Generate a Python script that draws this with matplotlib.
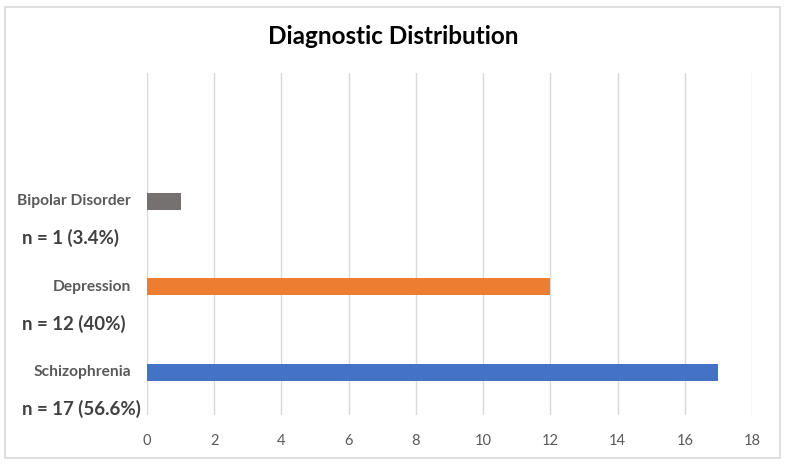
import matplotlib
matplotlib.use("Agg")
import matplotlib.pyplot as plt
from matplotlib.patches import Rectangle
from matplotlib.transforms import blended_transform_factory

plt.rcParams['font.family'] = ['Lato', 'DejaVu Sans']

categories = ["Schizophrenia", "Depression", "Bipolar Disorder", ""]
values = [17, 12, 1]
count_labels = ["n = 17 (56.6%)", "n = 12 (40%)", "n = 1 (3.4%)"]
colors = ["#4472C4", "#ED7D31", "#767171"]
xticks = [0, 2, 4, 6, 8, 10, 12, 14, 16, 18]
title = "Diagnostic Distribution"

W, H = 786, 465
fig = plt.figure(figsize=(W / 100, H / 100), dpi=100)
fig.patches.append(Rectangle((5 / W, 7 / H), 775 / W, 451 / H, transform=fig.transFigure,
                             fill=False, edgecolor="#D9D9D9", linewidth=1.2))

ax = fig.add_axes([147 / W, 1 - 415 / H, (752 - 147) / W, (415 - 73) / H])
ypos = list(range(len(values)))
ax.barh(ypos, values, height=0.2, color=colors, zorder=3)
ax.set_xlim(0, 18)
ax.set_ylim(-0.5, len(categories) - 0.5)
ax.set_xticks(xticks)
ax.set_xticklabels([str(t) for t in xticks], color="#595959", fontsize=10.5)
ax.tick_params(axis="x", length=0, pad=14)
ax.set_yticks([])
for s in ax.spines.values():
    s.set_visible(False)
ax.grid(axis="x", color="#D9D9D9", linewidth=1, zorder=0)

tr = blended_transform_factory(fig.transFigure, ax.transData)
for y, (cat, lab) in enumerate(zip(categories, count_labels)):
    ax.text(131 / W, y, cat, transform=tr, ha="right", va="center",
            fontsize=11.2, fontweight="bold", color="#595959")
    ax.text(22 / W, y - 0.43, lab, transform=tr, ha="left", va="center",
            fontsize=13.4, fontweight="bold", color="#404040")

fig.text(0.5, 1 - 36 / H, title, ha="center", va="center", fontsize=17.5,
         fontweight="bold", color="black")

fig.savefig("out.png", dpi=100)
